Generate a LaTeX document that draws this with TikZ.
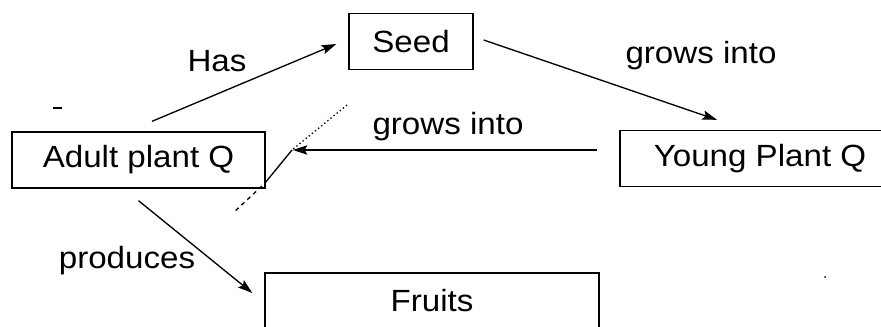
\documentclass[tikz,border=0pt]{standalone}
\usepackage{fontspec}
\setmainfont{Liberation Sans}[FakeStretch=1.08]
\usetikzlibrary{calc,arrows.meta}

\begin{document}
\begin{tikzpicture}[x=0.75pt,y=-0.75pt,%
	box/.style={draw,line width=1pt,inner sep=0pt,minimum height=56*0.75pt,font=\fontsize{23}{27}\selectfont},
	link/.style={line width=1pt,-{Stealth[length=11pt,width=7pt,inset=2pt]}},
	lbl/.style={inner sep=0pt,font=\fontsize{23}{27}\selectfont}]
	\def\px{0.75pt}	%one pixel of the scan
	\useasboundingbox (0,0) rectangle (881,327);
	\clip (0,0) rectangle (881,327);		%young plant and fruits run off the edge
	
	\node[box,minimum width=124*\px] (seed) at (411,41.5) {Seed};
	\node[box,minimum width=253*\px] (adult) at (138.5,160) {Adult plant Q};
	\node[box,minimum width=280*\px] (young) at (760,158.5) {Young Plant Q};
	\node[box,minimum width=334*\px] (fruits) at (432,301) {Fruits};
	
	\draw[link] ($(adult.north)+(13.5,-10)$) -- ($(seed.west)+(-12,2.5)$);
	\node[lbl] (has) at (217,61) {Has};
	\draw[link] ($(seed.east)+(10,-1.5)$) -- ($(young.north)+(-43,-10)$);
	\node[lbl] (grow1) at (701,56) {grows into};
	\draw[link] ($(young.west)+(-22,-8.5)$) -- ($(adult.east)+(27,-10)$);
	\node[lbl] (grow2) at (448,126.5) {grows into};
	\draw[link] ($(adult.south)+(0,12)$) -- ($(fruits.west)+(-12,-8)$);
	\node[lbl] (prod) at (127,261) {produces};
	
	%stray pen marks
	\coordinate (p1) at (347,105);
	\coordinate (p2) at (292,150);
	\coordinate (p3) at (265,183);
	\coordinate (p4) at (262,186);
	\coordinate (p5) at (233,213);
	\draw[line width=1pt,dotted] (p1) -- (p2);
	\draw[line width=1pt] (p2) -- (p3);
	\draw[line width=1pt,dashed] (p4) -- (p5);
	\draw[line width=1.2pt] (53,108) -- (62,108);
	\fill (825,277) circle (1);
\end{tikzpicture}
\end{document}
